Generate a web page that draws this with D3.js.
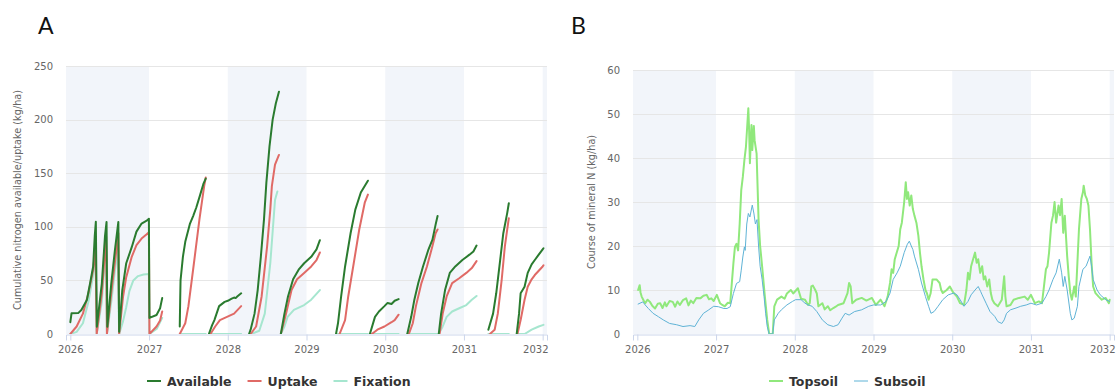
<!DOCTYPE html>
<html><head><meta charset="utf-8">
<script src="https://cdn.jsdelivr.net/npm/d3@7"></script>
<style>body{margin:0;background:#fff}svg{display:block}</style>
</head><body>
<svg id="c" width="1116" height="389"></svg>
<script>
// ---------- data ----------
const yearTicks = [2026, 2027, 2028, 2029, 2030, 2031, 2032];
const yTicksA = [0, 50, 100, 150, 200, 250];
const yTicksB = [0, 10, 20, 30, 40, 50, 60];
const bandYears = [2026, 2028, 2030, 2032];
const seriesA = ["Available", "Uptake", "Fixation"];
const seriesB = ["Topsoil", "Subsoil"];

// [decimal year, kg/ha]; null = gap
const available = [
 [2026.0,11],[2026.015,19.3],[2026.1,19.5],[2026.14,22.4],[2026.21,31.7],[2026.25,47],[2026.29,63],[2026.31,91],[2026.324,104.7],
 [2026.337,6.8],[2026.40,47],[2026.44,91],[2026.46,104.5],
 [2026.47,6.8],[2026.52,47],[2026.566,78],[2026.61,104.5],
 [2026.62,2],[2026.66,41],[2026.71,66],[2026.78,81],[2026.84,95.5],[2026.905,103],[2026.97,105.7],[2026.998,107.5],
 [2027.005,15],[2027.095,17.7],[2027.14,24],[2027.167,33.5],
 null,
 [2027.39,7],[2027.395,30],[2027.40,50],[2027.43,72],[2027.46,86],[2027.52,103],[2027.56,110],[2027.60,118],[2027.65,130],[2027.69,140],[2027.72,145],
 null,
 [2027.76,0],[2027.80,8],[2027.83,13],[2027.89,26],[2027.96,30],[2028.0,31],[2028.05,33],[2028.08,34],[2028.10,33.5],[2028.12,35],[2028.17,38],
 null,
 [2028.27,0],[2028.29,4],[2028.34,19],[2028.38,41],[2028.42,72],[2028.46,107],[2028.49,141],[2028.53,175],[2028.57,200],[2028.61,215],[2028.65,226],
 null,
 [2028.674,0],[2028.72,19],[2028.765,35],[2028.83,51],[2028.90,60],[2028.97,66],[2029.06,72],[2029.127,79],[2029.17,87.5],
 null,
 [2029.375,0],[2029.40,10],[2029.44,35],[2029.49,63],[2029.56,94],[2029.62,116],[2029.69,132],[2029.78,143],
 null,
 [2029.805,0],[2029.87,16],[2029.92,21],[2029.99,26],[2030.03,29],[2030.08,28],[2030.12,31],[2030.17,32.5],
 null,
 [2030.28,0],[2030.33,16],[2030.37,32],[2030.42,47.5],[2030.48,63],[2030.55,79],[2030.60,88],[2030.64,102],[2030.665,110],
 null,
 [2030.68,0],[2030.71,19],[2030.76,41],[2030.82,57],[2030.89,63],[2030.98,69],[2031.07,74],[2031.12,77],[2031.16,82.5],
 null,
 [2031.31,4],[2031.37,19],[2031.41,38],[2031.46,69],[2031.50,94],[2031.55,113],[2031.57,122],
 null,
 [2031.67,0],[2031.70,19],[2031.72,38],[2031.77,44],[2031.81,57],[2031.86,65],[2031.90,69],[2031.95,74],[2032.0,79],[2032.01,80]
];
const uptake = [
 [2026.0,0],[2026.08,7],[2026.16,19],[2026.23,38],[2026.29,60],[2026.32,81],
 [2026.335,0],[2026.40,38],[2026.455,91],
 [2026.465,0],[2026.52,38],[2026.60,88],[2026.61,94],
 [2026.62,0],[2026.67,35],[2026.71,53],[2026.78,72],[2026.84,83],[2026.905,89],[2026.97,93],[2026.998,95],
 [2027.005,0],[2027.095,7],[2027.14,12.5],[2027.167,21],
 null,
 [2027.39,0],[2027.46,10],[2027.50,26],[2027.57,66],[2027.64,107],[2027.70,138],[2027.72,146],
 null,
 [2027.78,0],[2027.84,7],[2027.90,13],[2027.99,16],[2028.08,19],[2028.17,26],
 null,
 [2028.29,0],[2028.36,7],[2028.43,35],[2028.50,82],[2028.54,116],[2028.56,138],[2028.60,158],[2028.65,167],
 null,
 [2028.674,0],[2028.74,19],[2028.81,41],[2028.88,51],[2028.97,57],[2029.06,63],[2029.127,69],[2029.17,76],
 null,
 [2029.42,0],[2029.49,13],[2029.53,35],[2029.60,66],[2029.67,97.5],[2029.74,122.5],[2029.78,130],
 null,
 [2029.83,0],[2029.90,4],[2029.99,7],[2030.08,11],[2030.12,13],[2030.17,18],
 null,
 [2030.30,0],[2030.35,10],[2030.39,26],[2030.46,47.5],[2030.53,63],[2030.60,82],[2030.64,94],[2030.665,97.5],
 null,
 [2030.69,0],[2030.73,19],[2030.78,35],[2030.85,47.5],[2030.94,52],[2031.03,57],[2031.10,61.5],[2031.16,68],
 null,
 [2031.33,0],[2031.39,4],[2031.43,19],[2031.48,51],[2031.52,82],[2031.57,108],
 null,
 [2031.68,0],[2031.72,13],[2031.77,32],[2031.81,44],[2031.86,51],[2031.90,55],[2032.0,63],[2032.01,64]
];
const fixation = [
 [2026.0,0],[2026.08,2],[2026.16,10],[2026.23,30],[2026.29,55],[2026.32,75],
 [2026.335,0],[2026.40,30],[2026.45,80],
 [2026.465,0],[2026.52,30],[2026.60,80],
 [2026.62,0],[2026.67,12],[2026.71,25],[2026.75,40],[2026.80,50],[2026.86,54],[2026.93,55.5],[2026.998,56],
 [2027.005,0],[2027.10,5],[2027.167,15],
 null,
 [2027.39,0],[2027.72,0],
 null,
 [2027.76,0],[2028.17,0],
 null,
 [2028.30,0],[2028.40,3],[2028.47,19],[2028.54,66],[2028.60,125],[2028.63,133],
 null,
 [2028.674,0],[2028.72,7],[2028.76,16],[2028.84,22.5],[2028.97,27],[2029.06,32],[2029.17,41],
 null,
 [2029.375,0],[2029.78,0],
 null,
 [2029.805,0],[2030.17,0],
 null,
 [2030.28,0],[2030.665,0],
 null,
 [2030.68,0],[2030.73,7],[2030.78,16],[2030.85,21],[2030.94,24],[2031.03,27],[2031.10,32],[2031.16,35.5],
 null,
 [2031.31,0],[2031.57,0],
 null,
 [2031.67,0],[2031.77,0],[2031.86,4],[2031.95,7],[2032.01,8.5]
];

// [decimal year, kg/ha]
const topsoil = [
 [2026.01,10],[2026.03,11.1],[2026.04,9.5],[2026.055,8.5],[2026.08,7.6],[2026.1,7],[2026.13,7.8],[2026.16,7.3],[2026.19,6.4],[2026.225,5.8],
 [2026.26,6.9],[2026.29,7],[2026.32,5.9],[2026.35,7.2],[2026.37,6.3],[2026.41,7.5],[2026.45,7.3],[2026.48,6.2],[2026.51,7.4],[2026.54,6.6],
 [2026.58,7.7],[2026.62,8.1],[2026.65,6.5],[2026.68,7.6],[2026.71,7],[2026.75,8.2],[2026.80,8.1],[2026.84,8.7],[2026.88,8.9],[2026.91,7.9],
 [2026.94,8.1],[2026.97,7.5],[2027.01,8.9],[2027.05,7],[2027.08,6.6],[2027.11,6.3],[2027.15,7.1],[2027.18,7],[2027.2,11.5],[2027.22,16],
 [2027.24,19.8],[2027.26,20.5],[2027.28,19],[2027.30,25],[2027.32,32.7],[2027.34,35.7],[2027.36,39.5],[2027.38,42.6],[2027.41,51.3],[2027.42,46.4],
 [2027.43,38.8],[2027.45,47.5],[2027.46,41.8],[2027.48,47.3],[2027.49,44],[2027.515,41],[2027.525,35],[2027.54,26],[2027.56,20],[2027.585,15.4],
 [2027.62,8.5],[2027.65,3.2],[2027.675,0],[2027.72,0],[2027.74,6.3],[2027.775,7.8],[2027.83,8.5],[2027.87,8.0],[2027.9,9.2],[2027.95,10],
 [2027.98,9.2],[2028.04,10.4],[2028.08,8],[2028.13,7.8],[2028.17,6.6],[2028.19,7],[2028.21,10.8],[2028.23,11],[2028.26,10],[2028.28,9.2],
 [2028.3,6.3],[2028.35,7],[2028.38,5.6],[2028.42,6.3],[2028.45,5.4],[2028.49,5.9],[2028.52,6.2],[2028.55,6.6],[2028.62,7],[2028.67,9.3],
 [2028.69,11.6],[2028.71,10.8],[2028.73,7],[2028.78,7.8],[2028.85,8.2],[2028.91,7.6],[2028.98,8.2],[2029.03,6.6],[2029.09,7.8],[2029.14,6.3],
 [2029.18,8.5],[2029.21,11.6],[2029.23,14.7],[2029.25,13.9],[2029.27,17],[2029.32,20],[2029.34,23.8],[2029.36,25.3],[2029.39,30],[2029.41,34.5],
 [2029.425,30.7],[2029.44,32.2],[2029.46,29.2],[2029.48,31.5],[2029.5,28.4],[2029.52,26.9],[2029.545,25.3],[2029.57,22.3],[2029.59,18.5],[2029.61,15.4],
 [2029.635,12.4],[2029.66,10],[2029.68,9.2],[2029.7,7.8],[2029.725,9.2],[2029.75,12.4],[2029.8,12.4],[2029.84,11.6],[2029.86,10],[2029.88,9.3],
 [2029.93,10],[2029.97,10.8],[2030.01,9.5],[2030.06,8.5],[2030.1,7],[2030.15,6.6],[2030.18,10],[2030.2,13.9],[2030.22,12.4],[2030.24,15.4],
 [2030.265,17],[2030.29,18.5],[2030.31,16.2],[2030.33,17],[2030.355,13.9],[2030.38,15.4],[2030.40,12.4],[2030.42,13.1],[2030.445,10.8],[2030.47,12.4],
 [2030.49,9.3],[2030.51,7.8],[2030.535,7],[2030.58,6.3],[2030.63,7.8],[2030.66,13.1],[2030.675,8.5],[2030.69,6.3],[2030.74,6.6],[2030.78,7.8],
 [2030.85,8.2],[2030.92,8.5],[2030.96,7.8],[2031.0,8.9],[2031.05,7],[2031.1,7.4],[2031.14,7],[2031.16,10],[2031.19,14.7],[2031.21,15.4],
 [2031.23,18.5],[2031.26,25.3],[2031.28,26.9],[2031.30,30],[2031.32,25.3],[2031.35,29.2],[2031.37,27],[2031.39,30.7],[2031.41,23],[2031.43,26.9],
 [2031.46,17.7],[2031.48,13.1],[2031.5,9.3],[2031.52,7.8],[2031.55,10.8],[2031.57,8.5],[2031.59,16.2],[2031.61,23.8],[2031.64,30.7],[2031.66,32.2],
 [2031.67,33.7],[2031.69,31.5],[2031.71,30.7],[2031.73,29.2],[2031.75,23.8],[2031.77,16.2],[2031.79,10.8],[2031.82,9.3],[2031.86,8.5],[2031.9,7.8],
 [2031.95,8.2],[2031.99,7],[2032.0,7.8]
];
const subsoil = [
 [2026.01,6.8],[2026.07,7.3],[2026.1,6.6],[2026.14,5.8],[2026.2,4.7],[2026.27,3.9],[2026.33,3.2],[2026.41,2.4],[2026.5,2.1],[2026.58,1.7],
 [2026.67,1.9],[2026.73,1.7],[2026.78,3.2],[2026.84,4.7],[2026.9,5.4],[2026.97,6.3],[2027.03,6.2],[2027.1,5.8],[2027.14,5.8],[2027.18,6.2],
 [2027.22,9.2],[2027.26,11.5],[2027.3,11.9],[2027.32,14.5],[2027.34,17.5],[2027.36,19.8],[2027.37,19],[2027.39,25],[2027.41,27.4],[2027.43,26.6],
 [2027.46,29.3],[2027.48,27.5],[2027.5,25],[2027.52,26],[2027.54,20],[2027.56,15.4],[2027.585,12.4],[2027.61,8.5],[2027.63,4.7],[2027.65,1.7],
 [2027.675,0],[2027.72,0],[2027.74,3.2],[2027.79,4.7],[2027.83,5.5],[2027.9,6.6],[2027.97,7.4],[2028.01,7.8],[2028.08,7.8],[2028.13,7],
 [2028.17,6.6],[2028.22,6.3],[2028.28,5.1],[2028.35,3.2],[2028.42,2.1],[2028.49,1.7],[2028.55,2.1],[2028.6,3.6],[2028.64,4.7],[2028.69,4.3],
 [2028.76,5.1],[2028.85,5.5],[2028.94,6.3],[2029.0,6.6],[2029.09,6.6],[2029.16,7.4],[2029.21,9.3],[2029.25,12.4],[2029.3,13.9],[2029.34,15.4],
 [2029.39,18.5],[2029.43,20.4],[2029.455,21.1],[2029.48,20],[2029.5,19.2],[2029.52,17.7],[2029.57,14.7],[2029.61,11.6],[2029.66,8.5],[2029.7,6.3],
 [2029.73,4.7],[2029.77,5.1],[2029.82,6.3],[2029.88,7.8],[2029.95,8.9],[2030.02,9.3],[2030.06,8.9],[2030.1,7.8],[2030.15,6.3],[2030.2,7.4],
 [2030.24,8.9],[2030.29,10],[2030.33,10.8],[2030.36,9.7],[2030.38,8.9],[2030.43,7],[2030.48,5.1],[2030.54,4],[2030.58,2.8],[2030.63,2.4],
 [2030.66,3.2],[2030.69,4.7],[2030.74,5.5],[2030.81,5.9],[2030.87,6.3],[2030.94,6.6],[2031.0,7],[2031.07,6.6],[2031.14,7],[2031.19,8.5],
 [2031.23,10],[2031.28,12.4],[2031.32,13.9],[2031.36,17],[2031.39,13.9],[2031.41,10.8],[2031.43,13.1],[2031.46,10],[2031.5,4.7],[2031.52,3.2],
 [2031.55,3.6],[2031.59,6.3],[2031.61,10.8],[2031.66,14.7],[2031.7,15.4],[2031.75,17.7],[2031.77,15.4],[2031.79,12.4],[2031.84,10],[2031.88,8.9],
 [2031.95,7.8],[2032.0,7.4]
];

// ---------- drawing ----------
const svg = d3.select("#c");
const FONT = "DejaVu Sans, sans-serif";
const xDomain = [2025.945, 2032.055];

function panel(opt) {
  const x = d3.scaleLinear().domain(xDomain).range([opt.left, opt.right]);
  const y = d3.scaleLinear().domain([0, opt.yMax]).range([opt.bottom, opt.top]);
  const g = svg.append("g");
  g.selectAll("rect.band").data(bandYears).join("rect")
    .attr("x", d => x(d === 2026 ? xDomain[0] : d))
    .attr("width", d => x(Math.min(d + 1, xDomain[1])) - x(d === 2026 ? xDomain[0] : d))
    .attr("y", opt.top).attr("height", opt.bottom - opt.top)
    .attr("fill", "#f2f5fa");
  g.selectAll("line.grid").data(opt.yTicks.filter(d => d > 0)).join("line")
    .attr("x1", opt.left).attr("x2", opt.right)
    .attr("y1", d => Math.round(y(d)) + 0.5).attr("y2", d => Math.round(y(d)) + 0.5)
    .attr("stroke", "#e6e6e6").attr("stroke-width", 1);
  g.selectAll("text.yl").data(opt.yTicks).join("text")
    .attr("x", opt.yLabelX).attr("y", d => y(d)).attr("dy", "0.35em")
    .attr("text-anchor", "end").attr("font-family", FONT).attr("font-size", 10)
    .attr("fill", "#666").text(d => d);
  g.append("text")
    .attr("transform", `translate(${opt.titleX},${(opt.top + opt.bottom) / 2}) rotate(-90)`)
    .attr("text-anchor", "middle").attr("font-family", FONT).attr("font-size", 9.7)
    .attr("fill", "#666").text(opt.title);
  const ax = d3.axisBottom(x).tickValues(yearTicks).tickFormat(d3.format("d")).tickSize(6).tickPadding(5);
  const axG = g.append("g").attr("transform", `translate(0,${Math.round(opt.bottom) + 0.5})`).call(ax);
  axG.select(".domain").attr("stroke", "#ccd6eb");
  axG.selectAll(".tick line").attr("stroke", "#ccd6eb");
  axG.selectAll(".tick text").attr("font-family", FONT).attr("font-size", 10).attr("fill", "#666");
  // keep the last label inside the plot's right edge
  const last = yearTicks[yearTicks.length - 1];
  axG.selectAll(".tick").filter(d => d === last).select("text")
    .attr("text-anchor", "end").attr("x", opt.right - x(last) + 1);
  const clipId = "clip" + opt.id;
  svg.append("clipPath").attr("id", clipId).append("rect")
    .attr("x", opt.left).attr("y", opt.top - 5).attr("width", opt.right - opt.left).attr("height", opt.bottom - opt.top + 5);
  const line = d3.line().defined(d => d !== null).x(d => x(d[0])).y(d => y(d[1]));
  opt.series.forEach(s => {
    g.append("path").datum(s.data).attr("d", line)
      .attr("fill", "none").attr("stroke", s.color).attr("stroke-width", s.width)
      .attr("stroke-linejoin", "round").attr("stroke-linecap", "round")
      .attr("clip-path", `url(#${clipId})`);
  });
  const lg = g.append("g").attr("transform", `translate(${opt.legendX},381)`);
  let cx = 0;
  opt.series.slice().sort((a, b) => a.order - b.order).forEach(s => {
    lg.append("line").attr("x1", cx).attr("x2", cx + 14).attr("y1", 0).attr("y2", 0)
      .attr("stroke", s.color).attr("stroke-width", s.width);
    const t = lg.append("text").attr("x", cx + 20).attr("y", 0).attr("dy", "0.36em")
      .attr("font-family", FONT).attr("font-weight", "bold").attr("font-size", 12.5)
      .attr("fill", "#333").text(s.name);
    cx += 20 + t.node().getComputedTextLength() + 16;
  });
  svg.append("text").attr("x", opt.letterX).attr("y", 34).attr("font-family", "Lato, sans-serif")
    .attr("font-size", 23).attr("fill", "#111").text(opt.letter);
}

panel({
  id: "A", letter: "A", letterX: 38, left: 66, right: 547, top: 66, bottom: 334, yMax: 250,
  yTicks: yTicksA, yLabelX: 53, titleX: 21,
  title: "Cumulative nitrogen available/uptake (kg/ha)", legendX: 147,
  series: [
    {name: seriesA[2], data: fixation, color: "#a6e6cf", width: 2, order: 2},
    {name: seriesA[1], data: uptake, color: "#e06a66", width: 2, order: 1},
    {name: seriesA[0], data: available, color: "#2a7b2f", width: 2, order: 0}
  ]
});
panel({
  id: "B", letter: "B", letterX: 571, left: 633, right: 1114, top: 70, bottom: 334, yMax: 60,
  yTicks: yTicksB, yLabelX: 620, titleX: 595,
  title: "Course of mineral N (kg/ha)", legendX: 769,
  series: [
    {name: seriesB[0], data: topsoil, color: "#90e87c", width: 2, order: 0},
    {name: seriesB[1], data: subsoil, color: "#5fb3d6", width: 1, order: 1}
  ]
});
</script>
</body></html>
